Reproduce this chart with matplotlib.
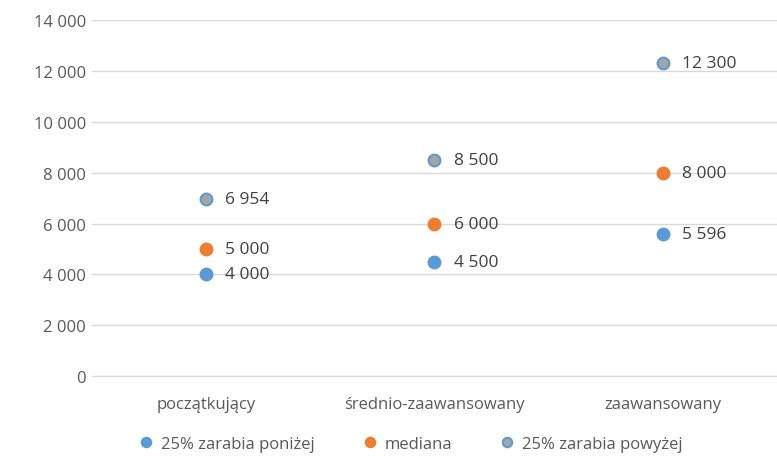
import matplotlib.pyplot as plt
import numpy as np
from matplotlib.ticker import FuncFormatter

categories = ['początkujący', 'średnio-zaawansowany', 'zaawansowany']
lower_25 = [4000, 4500, 5596]
median = [5000, 6000, 8000]
upper_25 = [6954, 8500, 12300]
series_names = ['25% zarabia poniżej', 'mediana', '25% zarabia powyżej']

plt.rcParams['font.family'] = ['Open Sans', 'DejaVu Sans']
txt = '#595959'

fig = plt.figure(figsize=(7.77, 4.6), dpi=100)
ax = fig.add_axes([0.118, 0.180, 0.882, 0.774])

x = np.arange(len(categories))
styles = [
    dict(color='#5B9BD5', edge='#5B9BD5'),
    dict(color='#ED7D31', edge='#ED7D31'),
    dict(color='#A5A5A5', edge='#5B9BD5'),
]
for vals, name, st in zip([lower_25, median, upper_25], series_names, styles):
    ax.plot(x, vals, linestyle='none', marker='o', markersize=8.5,
            markerfacecolor=st['color'], markeredgecolor=st['edge'],
            markeredgewidth=1.5, label=name, zorder=3)
    for xi, v in zip(x, vals):
        ax.annotate(f'{v:,}'.replace(',', ' '), (xi, v), xytext=(14, 0),
                    textcoords='offset points', va='center', ha='left',
                    fontsize=12.5, color='#404040')

ax.set_xlim(-0.5, 2.5)
ax.set_ylim(0, 14000)
ax.set_yticks(np.arange(0, 14001, 2000))
ax.yaxis.set_major_formatter(FuncFormatter(lambda v, p: f'{int(v):,}'.replace(',', ' ')))
ax.set_xticks(x)
ax.set_xticklabels(categories)
ax.tick_params(axis='both', length=0, labelsize=12, colors=txt)
ax.tick_params(axis='y', pad=4)
ax.tick_params(axis='x', pad=14)
ax.grid(axis='y', color='#D9D9D9', linewidth=1)
ax.set_axisbelow(True)
for s in ['top', 'right', 'left']:
    ax.spines[s].set_visible(False)
ax.spines['bottom'].set_color('#D9D9D9')

fig.legend(loc='center', bbox_to_anchor=(0.53, 0.033), ncol=3, frameon=False,
           fontsize=12, labelcolor=txt, handlelength=0.6, handletextpad=0.6,
           columnspacing=3.0, markerscale=0.8)

fig.savefig('out.png', dpi=100)
